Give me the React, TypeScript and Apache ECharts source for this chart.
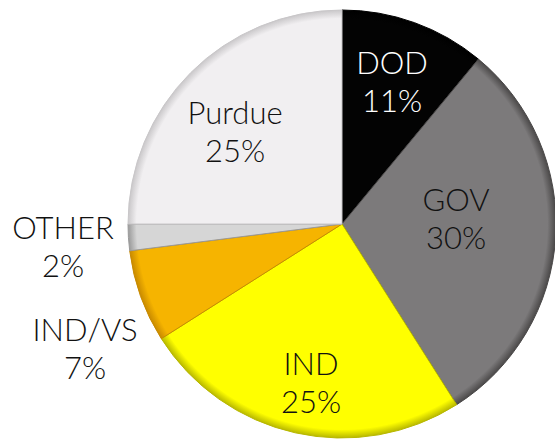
import React, { useEffect, useRef } from "react";
import * as echarts from "echarts";

const categories = ["DOD", "GOV", "IND", "IND/VS", "OTHER", "Purdue"];
const values = [11, 30, 25, 7, 2, 25];
const colors = ["#030303", "#7c7a7b", "#ffff00", "#f6b400", "#d6d6d6", "#f1eff1"];
const edgeColors = ["#000000", "#4a4848", "#b8b800", "#c88a00", "#9a9a9a", "#c9c7c9"];
const labelColors = ["#ffffff", "#111111", "#111111", "#111111", "#111111", "#111111"];
// label anchor positions (x, y) in px
const labelPos = [
  [392, 81],
  [456, 218],
  [311, 382],
  [85, 348],
  [63, 246],
  [235, 131],
];

const CX = 342;
const CY = 224;
const R = 214;

export default function App() {
  const ref = useRef<HTMLDivElement>(null);
  useEffect(() => {
    document.body.style.margin = "0";
    const chart = echarts.init(ref.current!, null, { renderer: "svg" });
    const data = categories.map((name, i) => ({
      name,
      value: values[i],
      itemStyle: {
        color: new echarts.graphic.RadialGradient(
          CX,
          CY,
          R,
          [
            { offset: 0, color: colors[i] },
            { offset: 0.96, color: colors[i] },
            { offset: 1, color: edgeColors[i] },
          ],
          true
        ),
        borderColor: edgeColors[i],
        borderWidth: 1,
      },
      label: {
        color: labelColors[i],
        position: i === 3 || i === 4 ? "outside" : "inside",
      },
    }));
    chart.setOption({
      animation: false,
      backgroundColor: "#ffffff",
      series: [
        {
          type: "pie",
          center: [CX, CY],
          radius: [0, R],
          startAngle: 90,
          clockwise: true,
          avoidLabelOverlap: false,
          data,
          labelLine: { show: false },
          label: {
            show: true,
            formatter: (p: any) => `${p.name}\n${p.value}%`,
            fontFamily: "Lato, 'Open Sans', sans-serif",
            fontWeight: 300,
            fontSize: 31,
            lineHeight: 38,
            align: "center",
          },
          labelLayout: (p: any) => {
            const pos = labelPos[p.dataIndex];
            return { x: pos[0], y: pos[1], align: "center", verticalAlign: "middle" };
          },
          emphasis: { disabled: true },
        },
      ],
    });
    return () => chart.dispose();
  }, []);
  return <div ref={ref} style={{ width: 555, height: 441 }} />;
}
